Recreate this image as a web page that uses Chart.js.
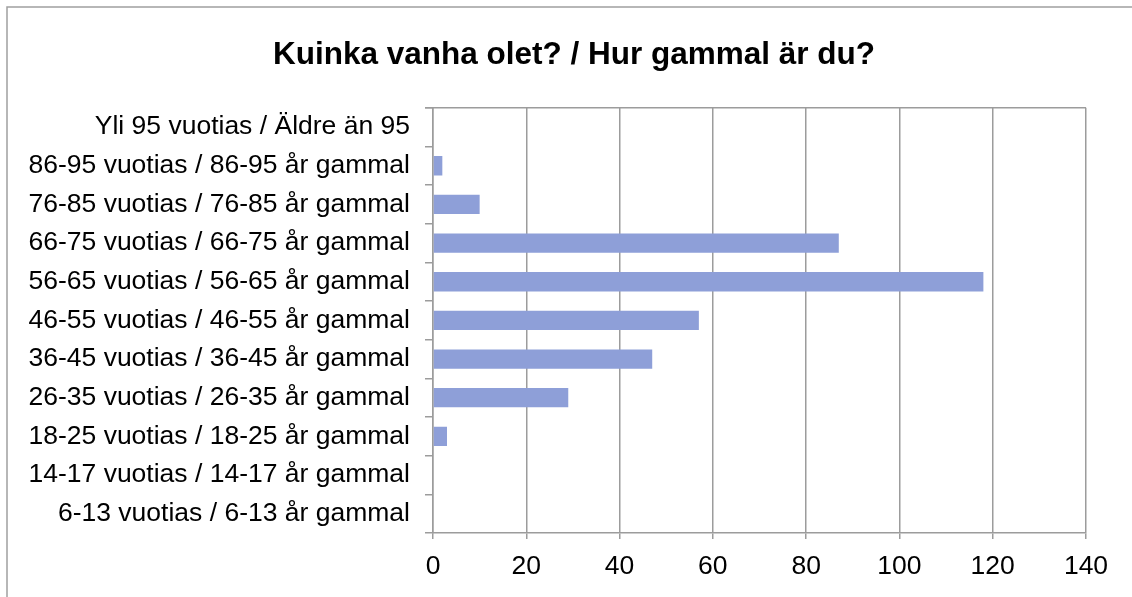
<!DOCTYPE html>
<html>
<head>
<meta charset="utf-8">
<script src="https://cdn.jsdelivr.net/npm/chart.js@4"></script>
<style>
  html, body { margin: 0; padding: 0; background: #fff; }
  #wrap { width: 1132px; height: 597px; }
</style>
</head>
<body>
<div id="wrap"><canvas id="ageChart" width="1132" height="597"></canvas></div>
<script>
let categories = [
    "Yli 95 vuotias / Äldre än 95",
    "86-95 vuotias / 86-95 år gammal",
    "76-85 vuotias / 76-85 år gammal",
    "66-75 vuotias / 66-75 år gammal",
    "56-65 vuotias / 56-65 år gammal",
    "46-55 vuotias / 46-55 år gammal",
    "36-45 vuotias / 36-45 år gammal",
    "26-35 vuotias / 26-35 år gammal",
    "18-25 vuotias / 18-25 år gammal",
    "14-17 vuotias / 14-17 år gammal",
    "6-13 vuotias / 6-13 år gammal"
];
let answers = [0, 2, 10, 87, 118, 57, 47, 29, 3, 0, 0];
let xTicks = [0, 20, 40, 60, 80, 100, 120, 140];

const font = "Arial, 'Liberation Sans', sans-serif";
const gridGray = "#9c9c9c";

// outer frame + top edge of the plot area, and title centred like the original
const framePlugin = {
    id: "frame",
    afterLayout(chart) {
        if (chart.titleBlock) chart.titleBlock.left = 62;
    },
    afterDraw(chart) {
        let ctx = chart.ctx;
        let a = chart.chartArea;
        ctx.save();
        ctx.strokeStyle = "#a0a0a0";
        ctx.lineWidth = 1.5;
        ctx.beginPath();
        ctx.moveTo(7, 597);
        ctx.lineTo(7, 7);
        ctx.lineTo(1132, 7);
        ctx.stroke();
        ctx.strokeStyle = gridGray;
        ctx.beginPath();
        ctx.moveTo(a.left - 8, a.top);
        ctx.lineTo(a.right, a.top);
        ctx.stroke();
        ctx.restore();
    }
};

new Chart(document.getElementById("ageChart"), {
    type: "bar",
    data: {
        labels: categories,
        datasets: [{
            data: answers,
            backgroundColor: "#8e9fd8",
            barPercentage: 0.5,
            categoryPercentage: 1.0
        }]
    },
    plugins: [framePlugin],
    options: {
        indexAxis: "y",
        responsive: false,
        animation: false,
        layout: { padding: { left: 0, right: 46, top: 36, bottom: 0 } },
        plugins: {
            legend: { display: false },
            tooltip: { enabled: false },
            title: {
                display: true,
                text: "Kuinka vanha olet? / Hur gammal är du?",
                color: "#000",
                font: { family: font, size: 31.5, weight: "bold" },
                padding: { top: 0, bottom: 34 }
            }
        },
        scales: {
            x: {
                min: 0,
                max: 140,
                afterBuildTicks: scale => { scale.ticks = xTicks.map(v => ({ value: v })); },
                afterFit: scale => { scale.height = 64; },
                grid: { color: gridGray, lineWidth: 1.5, tickLength: 6 },
                border: { color: gridGray, width: 1.5 },
                ticks: { color: "#000", padding: 12, font: { family: font, size: 26.5 } }
            },
            y: {
                afterFit: scale => { scale.width = 433; },
                grid: { drawOnChartArea: false, color: gridGray, lineWidth: 1.5, tickLength: 8 },
                border: { color: gridGray, width: 1.5 },
                ticks: { color: "#000", padding: 15, font: { family: font, size: 26.5 } }
            }
        }
    }
});
</script>
</body>
</html>
